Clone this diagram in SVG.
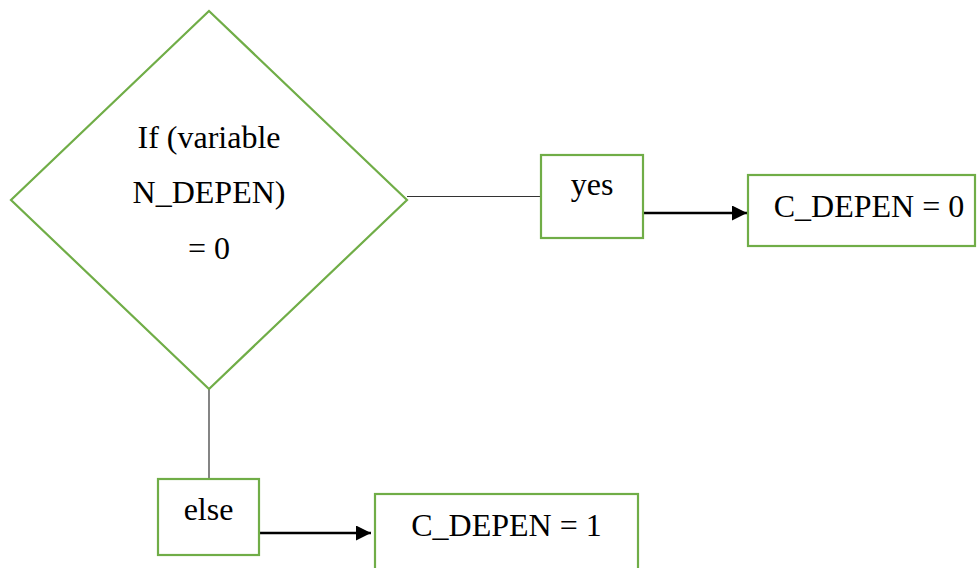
<svg xmlns="http://www.w3.org/2000/svg" width="977" height="568" viewBox="0 0 977 568">
<defs>
<style>
.node{fill:#ffffff;stroke:#70AD47;stroke-width:2.2}
.t{font-family:"Liberation Serif","Times New Roman",serif;font-size:32px;fill:#000;text-anchor:middle}
.thin{stroke:#333;stroke-width:1.2;fill:none}
.arr{stroke:#000;stroke-width:2.6;fill:none;marker-end:url(#ah)}
</style>
<marker id="ah" markerWidth="16" markerHeight="16" refX="15" refY="7.5" orient="auto" markerUnits="userSpaceOnUse">
<path d="M0,0 L15,7.5 L0,15 Z" fill="#000"/>
</marker>
</defs>
<rect width="977" height="568" fill="#fff"/>
<g id="connectors">
<line class="thin" x1="407" y1="196.5" x2="541" y2="196.5"/>
<line class="thin" x1="209" y1="389" x2="209" y2="479"/>
<line class="arr" x1="643" y1="213" x2="747" y2="213"/>
<line class="arr" x1="259" y1="533" x2="371" y2="533"/>
</g>
<g id="decision">
<polygon class="node" points="209,11 407,200 209,389 11,200"/>
<text class="t" x="209" y="147.5">If (variable</text>
<text class="t" x="209" y="202.5">N_DEPEN)</text>
<text class="t" x="209" y="258.5">= 0</text>
</g>
<g id="yes">
<rect class="node" x="541" y="155" width="102" height="83"/>
<text class="t" x="592" y="194.5">yes</text>
</g>
<g id="c0">
<rect class="node" x="748" y="175" width="227" height="71"/>
<text class="t" x="869" y="216.5">C_DEPEN = 0</text>
</g>
<g id="else">
<rect class="node" x="158" y="479" width="101" height="76"/>
<text class="t" x="208.5" y="519.5">else</text>
</g>
<g id="c1">
<rect class="node" x="375" y="494" width="263" height="90"/>
<text class="t" x="506.5" y="535.5">C_DEPEN = 1</text>
</g>
</svg>
